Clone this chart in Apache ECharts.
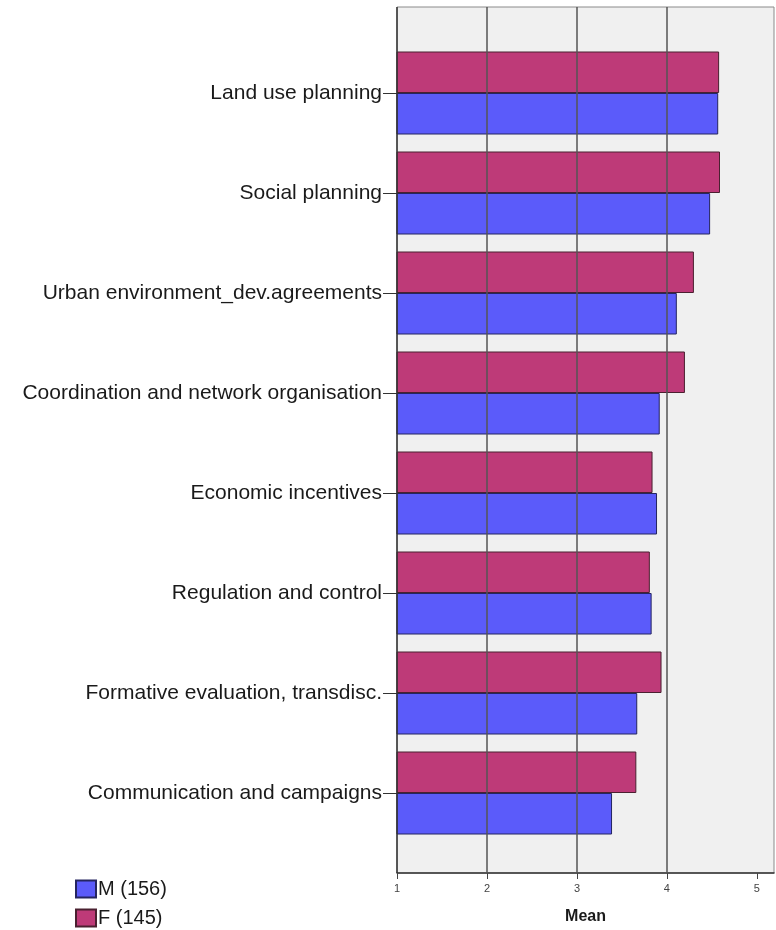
<!DOCTYPE html>
<html>
<head>
<meta charset="utf-8">
<script src="https://cdn.jsdelivr.net/npm/echarts@6/dist/echarts.min.js"></script>
<style>
html,body{margin:0;padding:0;background:#fff;}
#main{width:776px;height:930px;}
</style>
</head>
<body>
<div id="main"></div>
<script>
const categories = [
  'Land use planning',
  'Social planning',
  'Urban environment_dev.agreements',
  'Coordination and network organisation',
  'Economic incentives',
  'Regulation and control',
  'Formative evaluation, transdisc.',
  'Communication and campaigns'
];
const seriesM = [4.57, 4.48, 4.11, 3.92, 3.89, 3.83, 3.67, 3.39];
const seriesF = [4.58, 4.59, 4.30, 4.20, 3.84, 3.81, 3.94, 3.66];
const nameM = 'M (156)';
const nameF = 'F (145)';
const xMin = 1, xMax = 5.19;
const xTicks = [1, 2, 3, 4, 5];
const gridLineValues = [2, 3, 4];

const FONT = '"Liberation Sans", Arial, sans-serif';
const chart = echarts.init(document.getElementById('main'), null, {renderer: 'canvas'});
chart.setOption({
  animation: false,
  backgroundColor: '#ffffff',
  legend: {
    data: [nameM, nameF],
    orient: 'vertical',
    left: 75, top: 879, padding: 0,
    itemWidth: 20, itemHeight: 17, itemGap: 9,
    icon: 'rect',
    textStyle: {fontFamily: FONT, fontSize: 20, color: '#1a1a1a', padding: [0,0,0,-3]},
    selectedMode: false
  },
  grid: [
    {left: 397, right: 2, top: 7, bottom: 54, show: true, backgroundColor: '#f0f0f0', borderColor: '#8a8a8a', borderWidth: 1},
    {left: 397, right: 2, top: 43, bottom: 87}
  ],
  xAxis: [
    {gridIndex: 0, type: 'value', min: xMin, max: xMax, interval: 1,
     axisLine: {show: true, lineStyle: {color: '#333', width: 1.5}},
     axisTick: {show: true, length: 6, customValues: xTicks, lineStyle: {color: '#444'}},
     axisLabel: {fontFamily: FONT, fontSize: 11, color: '#444', margin: 10, customValues: xTicks},
     splitLine: {show: false},
     name: 'Mean', nameLocation: 'middle', nameGap: 36,
     nameTextStyle: {fontFamily: FONT, fontSize: 16, fontWeight: 'bold', color: '#1a1a1a'}},
    {gridIndex: 1, type: 'value', min: xMin, max: xMax, show: false}
  ],
  yAxis: [
    {gridIndex: 0, type: 'value', min: 0, max: 1, show: false},
    {gridIndex: 1, type: 'category', data: categories, inverse: true,
     axisLine: {show: false},
     axisTick: {show: true, alignWithLabel: true, length: 14, lineStyle: {color: '#333'}},
     axisLabel: {fontFamily: FONT, fontSize: 21, color: '#1a1a1a', margin: 15, padding: [5, 0, 0, 0]},
     splitLine: {show: false}}
  ],
  series: [
    {type: 'line', xAxisIndex: 0, yAxisIndex: 0, data: [], silent: true,
     markLine: {silent: true, symbol: 'none', label: {show: false},
       lineStyle: {color: '#555', width: 1.5, type: 'solid'},
       data: gridLineValues.map(v => ({xAxis: v}))}},
    {name: nameF, type: 'bar', xAxisIndex: 1, yAxisIndex: 1, data: seriesF,
     barWidth: 41.5, barGap: '0%',
     itemStyle: {color: '#be3a78', borderColor: '#4a2030', borderWidth: 1}},
    {name: nameM, type: 'bar', xAxisIndex: 1, yAxisIndex: 1, data: seriesM,
     barWidth: 41.5, barGap: '0%',
     itemStyle: {color: '#5b5bfa', borderColor: '#252560', borderWidth: 1}},
    {type: 'line', xAxisIndex: 0, yAxisIndex: 0, data: [], silent: true,
     markLine: {silent: true, symbol: 'none', label: {show: false},
       lineStyle: {color: '#333', width: 1.5, type: 'solid'},
       data: [{xAxis: xMin}]}}
  ]
});
</script>
</body>
</html>
